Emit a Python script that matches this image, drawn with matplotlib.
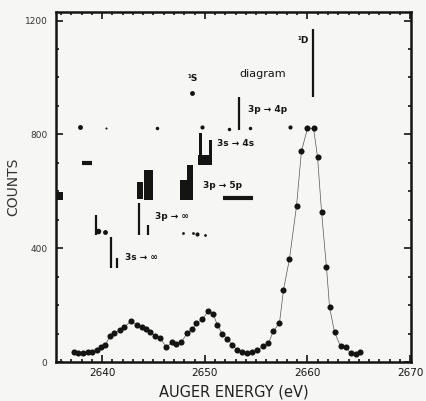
import numpy as np
import matplotlib.pyplot as plt
from matplotlib.ticker import MultipleLocator

# -----------------------------------
# Measured spectrum (read off the scan)
# -----------------------------------

energy = [
    2637.27, 2637.66, 2638.15, 2638.63, 2639.02, 2639.51, 2639.90, 2640.29,
    2640.78, 2641.17, 2641.76, 2642.15, 2642.83, 2643.41, 2643.90, 2644.29,
    2644.68, 2645.17, 2645.66, 2646.24, 2646.83, 2647.22, 2647.71, 2648.29,
    2648.78, 2649.17, 2649.76, 2650.34, 2650.83, 2651.22, 2651.71, 2652.20,
    2652.68, 2653.17, 2653.66, 2654.15, 2654.63, 2655.12, 2655.71, 2656.20,
    2656.68, 2657.27, 2657.66, 2658.24, 2658.93, 2659.41, 2660.00, 2660.59,
    2660.98, 2661.37, 2661.85, 2662.15, 2662.63, 2663.22, 2663.71, 2664.20,
    2664.68, 2665.07,
]

counts = [
    35, 32, 32, 35, 35, 42, 53, 60,
    91, 102, 112, 123, 144, 130, 123, 116,
    105, 91, 84, 53, 70, 63, 70, 102,
    116, 137, 151, 179, 168, 130, 98, 81,
    60, 42, 35, 32, 35, 42, 56, 67,
    109, 137, 253, 362, 548, 741, 821, 821,
    720, 527, 333, 193, 105, 56, 53, 32,
    28, 35,
]

# -----------------------------------
# Stick diagram (thin lines)
# -----------------------------------

stick_e = [2639.41, 2640.88, 2641.46, 2643.61, 2644.49, 2653.37, 2660.49]
stick_lo = [446, 330, 330, 446, 446, 814, 930]
stick_hi = [516, 439, 365, 558, 481, 930, 1172]

# thick blocks
block_e = [2635.8, 2643.71, 2644.49, 2647.95, 2648.59, 2649.56, 2650.54, 2650.05]
block_lo = [569, 572, 569, 569, 569, 692, 692, 692]
block_hi = [597, 632, 674, 639, 692, 804, 779, 727]
block_w = [0.8, 0.6, 0.9, 0.7, 0.6, 0.35, 0.35, 1.36]

# short horizontal dashes
dash_y = [698, 576]
dash_e0 = [2638.05, 2651.80]
dash_e1 = [2639.02, 2654.73]

# stray dots
dot_e = [2637.85, 2640.39, 2645.37, 2648.78, 2652.39, 2654.44, 2647.90,
         2648.88, 2649.27, 2650.05, 2639.61, 2640.29, 2649.76, 2658.34]
dot_c = [825, 821, 821, 944, 818, 821, 453,
         453, 449, 446, 460, 456, 825, 825]
dot_s = [3.5, 1.5, 2.5, 3.5, 2.5, 2.5, 2,
         2, 3, 2, 4, 3.5, 3, 3]

# labels
label_txt = ["¹D", "¹S", "diagram", "3p → 4p", "3s → 4s", "3p → 5p",
             "3p → ∞", "3s → ∞"]
label_e = [2659.0, 2648.3, 2655.6, 2654.2, 2651.2, 2649.85, 2645.1, 2642.2]
label_c = [1130, 995, 1014, 888, 769, 621, 512, 369]

ink = "#141414"

# -----------------------------------
# Figure
# -----------------------------------

fig = plt.figure(figsize=(4.27, 4.01), dpi=100)
fig.patch.set_facecolor("#f6f6f4")
ax = fig.add_axes([0.131, 0.097, 0.832, 0.873])
ax.set_facecolor("#f6f6f4")

ax.plot(energy, counts, "-", color="#555555", lw=0.5, zorder=2)
ax.plot(energy, counts, "o", color=ink, ms=4.4, mec="none", zorder=3)

ax.vlines(stick_e, stick_lo, stick_hi, color=ink, lw=1.6)
ax.bar(block_e, np.array(block_hi) - np.array(block_lo), bottom=block_lo,
       width=block_w, color=ink, linewidth=0)
ax.hlines(dash_y, dash_e0, dash_e1, color=ink, lw=3)
for e, c, s in zip(dot_e, dot_c, dot_s):
    ax.plot(e, c, "o", color=ink, ms=s, mec="none")

for t, e, c in zip(label_txt, label_e, label_c):
    ax.text(e, c, t, fontsize=6.5 if t != "diagram" else 8,
            ha="center" if t == "diagram" else "left", va="center",
            color=ink, fontweight="bold" if t != "diagram" else "normal")

# -----------------------------------
# Axes
# -----------------------------------

ax.set_xlim(2635.5, 2670.1)
ax.set_ylim(0, 1230)

ax.xaxis.set_major_locator(MultipleLocator(10))
ax.xaxis.set_minor_locator(MultipleLocator(1))
ax.yaxis.set_major_locator(MultipleLocator(400))
ax.yaxis.set_minor_locator(MultipleLocator(100))

ax.tick_params(which="both", direction="in", top=True, right=True,
               color=ink, width=1.2)
ax.tick_params(which="major", length=5)
ax.tick_params(which="minor", length=2.5)
ax.tick_params(axis="x", labelsize=7.5, pad=4, labelcolor=ink)
ax.tick_params(axis="y", labelsize=6.5, pad=6, labelcolor="#333333")

for sp in ax.spines.values():
    sp.set_linewidth(1.8)
    sp.set_color(ink)

ax.set_xlabel("AUGER ENERGY (eV)", fontsize=10.5, color="#222222", labelpad=5)
ax.set_ylabel("COUNTS", fontsize=10, color="#333333", labelpad=3)

plt.savefig("out.png", dpi=100, facecolor=fig.get_facecolor())
